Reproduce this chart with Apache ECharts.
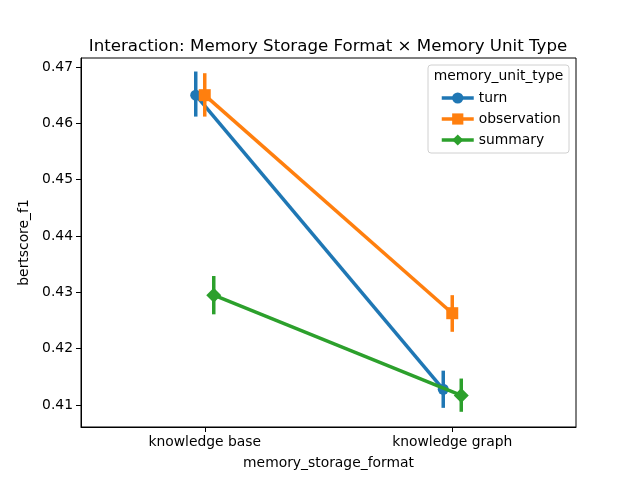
<!DOCTYPE html>
<html>
<head>
<meta charset="utf-8">
<script src="https://cdn.jsdelivr.net/npm/echarts@6/dist/echarts.min.js"></script>
<style>
  html, body { margin: 0; padding: 0; background: #fff; }
  #main { width: 640px; height: 480px; }
</style>
</head>
<body>
<div id="main"></div>
<script>
var categories = ["knowledge base", "knowledge graph"];
var unitTypes = ["turn", "observation", "summary"];
// means per unit type (one value per storage format)
var turnMean = [0.4650, 0.4128];
var observationMean = [0.4650, 0.4263];
var summaryMean = [0.4295, 0.4117];
// 95% CI low / high
var turnLow = [0.4612, 0.4095];
var turnHigh = [0.4692, 0.4161];
var observationLow = [0.4612, 0.4230];
var observationHigh = [0.4689, 0.4295];
var summaryLow = [0.4261, 0.4088];
var summaryHigh = [0.4329, 0.4147];
var yTicks = [0.41, 0.42, 0.43, 0.44, 0.45, 0.46, 0.47];

var colors = ["#1f77b4", "#ff7f0e", "#2ca02c"];
var symbols = ["circle", "rect", "diamond"];
var symbolSizes = [11, 12, 15];
var dodge = 0.0364;

var means = [turnMean, observationMean, summaryMean];
var lows = [turnLow, observationLow, summaryLow];
var highs = [turnHigh, observationHigh, summaryHigh];

var myChart = echarts.init(document.getElementById("main"));

var series = [];
unitTypes.forEach(function (name, s) {
  var off = (s - 1) * dodge;
  var pts = [];
  var errs = [];
  for (var i = 0; i < categories.length; i++) {
    pts.push([i + off, means[s][i]]);
    errs.push([i + off, lows[s][i], highs[s][i]]);
  }
  series.push({
    name: name + "_err",
    type: "custom",
    silent: true,
    z: 2 + s * 2,
    data: errs,
    renderItem: function (params, api) {
      var a = api.coord([api.value(0), api.value(1)]);
      var b = api.coord([api.value(0), api.value(2)]);
      return {
        type: "line",
        shape: { x1: a[0], y1: a[1], x2: b[0], y2: b[1] },
        style: { stroke: colors[s], lineWidth: 3.5 }
      };
    }
  });
  series.push({
    name: name,
    type: "line",
    z: 3 + s * 2,
    data: pts,
    symbol: symbols[s],
    symbolSize: symbolSizes[s],
    showAllSymbol: true,
    itemStyle: { color: colors[s], borderWidth: 0 },
    lineStyle: { color: colors[s], width: 3.5 },
    emphasis: { disabled: true },
    animation: false
  });
});

var option = {
  animation: false,
  textStyle: { fontFamily: "DejaVu Sans" },
  title: {
    text: "Interaction: Memory Storage Format \u00d7 Memory Unit Type",
    left: 323,
    textAlign: "center",
    top: 33,
    textStyle: { fontSize: 16.67, fontWeight: "normal", color: "#000", fontFamily: "DejaVu Sans" }
  },
  grid: { left: 81, right: 64, top: 58, bottom: 53, show: true, borderColor: "#000", borderWidth: 1, backgroundColor: "transparent" },
  legend: {
    orient: "vertical",
    left: 435,
    top: 86,
    itemWidth: 32,
    itemHeight: 14,
    itemGap: 7,
    data: unitTypes,
    lineStyle: { width: 3.5 },
    textStyle: { fontSize: 13.89, color: "#000", fontFamily: "DejaVu Sans" }
  },
  graphic: [
    {
      type: "rect",
      shape: { x: 428, y: 65, width: 141, height: 88, r: 3 },
      style: { fill: "rgba(255,255,255,0.8)", stroke: "#d0d0d0", lineWidth: 1 },
      z: 0
    },
    {
      type: "text",
      x: 498.5,
      y: 76,
      style: { text: "memory_unit_type", fontSize: 13.89, fontFamily: "DejaVu Sans", fill: "#000", align: "center", verticalAlign: "middle" },
      z: 10
    }
  ],
  xAxis: {
    type: "value",
    min: -0.5,
    max: 1.5,
    name: "memory_storage_format",
    nameLocation: "middle",
    nameGap: 29,
    nameTextStyle: { fontSize: 13.89, color: "#000", fontFamily: "DejaVu Sans" },
    axisLine: { onZero: false, lineStyle: { color: "#000", width: 1 } },
    axisTick: { length: 5, lineStyle: { color: "#000" }, customValues: [0, 1] },
    axisLabel: {
      customValues: [0, 1],
      margin: 8,
      fontSize: 13.89,
      color: "#000",
      fontFamily: "DejaVu Sans",
      formatter: function (v) { return categories[Math.round(v)]; }
    },
    splitLine: { show: false }
  },
  yAxis: {
    type: "value",
    min: 0.4061,
    max: 0.4716,
    name: "bertscore_f1",
    nameLocation: "middle",
    nameGap: 46,
    nameTextStyle: { fontSize: 13.89, color: "#000", fontFamily: "DejaVu Sans" },
    axisLine: { show: true, onZero: false, lineStyle: { color: "#000", width: 1 } },
    axisTick: { show: true, length: 5, lineStyle: { color: "#000" }, customValues: yTicks },
    axisLabel: {
      customValues: yTicks,
      margin: 8,
      fontSize: 13.89,
      color: "#000",
      fontFamily: "DejaVu Sans",
      formatter: function (v) { return v.toFixed(2); }
    },
    splitLine: { show: false }
  },
  series: series
};

myChart.setOption(option);
</script>
</body>
</html>
